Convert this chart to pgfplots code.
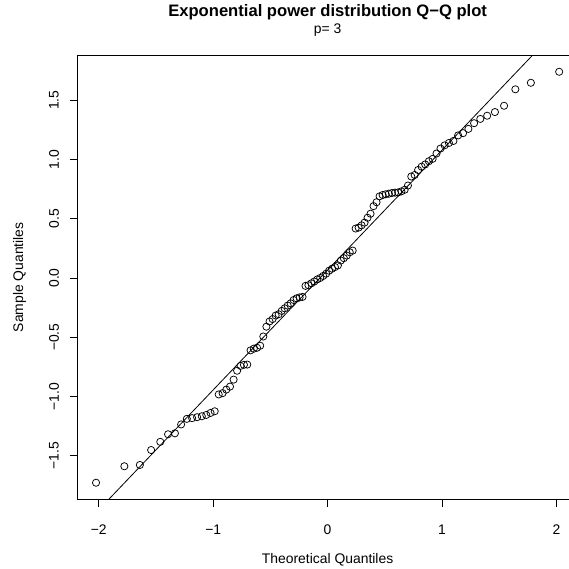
\documentclass[border=0pt]{standalone}
\usepackage{pgfplots}
\pgfplotsset{compat=1.18}
\usepackage{pgfplotstable}
\usepackage{fontspec}
\setmainfont{Liberation Sans}

% sorted sample (y) against theoretical quantiles (x), n = 100
\pgfplotstableread{
x y
-2.0240 -1.728
-1.7765 -1.589
-1.6410 -1.578
-1.5424 -1.452
-1.4626 -1.383
-1.3946 -1.319
-1.3346 -1.311
-1.2803 -1.236
-1.2305 -1.189
-1.1842 -1.183
-1.1407 -1.175
-1.0995 -1.167
-1.0603 -1.156
-1.0228 -1.139
-0.9867 -1.125
-0.9518 -0.983
-0.9179 -0.972
-0.8851 -0.942
-0.8530 -0.917
-0.8216 -0.858
-0.7910 -0.783
-0.7609 -0.742
-0.7313 -0.733
-0.7022 -0.731
-0.6735 -0.611
-0.6452 -0.597
-0.6172 -0.589
-0.5894 -0.572
-0.5620 -0.494
-0.5349 -0.411
-0.5077 -0.367
-0.4809 -0.347
-0.4543 -0.317
-0.4278 -0.306
-0.4014 -0.278
-0.3751 -0.256
-0.3490 -0.233
-0.3229 -0.214
-0.2969 -0.186
-0.2709 -0.172
-0.2450 -0.164
-0.2191 -0.160
-0.1933 -0.067
-0.1675 -0.061
-0.1417 -0.045
-0.1159 -0.030
-0.0902 -0.012
-0.0644 0.000
-0.0386 0.017
-0.0129 0.036
0.0129 0.061
0.0386 0.078
0.0644 0.092
0.0902 0.106
0.1159 0.147
0.1417 0.167
0.1675 0.189
0.1933 0.217
0.2191 0.231
0.2450 0.417
0.2709 0.425
0.2969 0.444
0.3229 0.467
0.3490 0.508
0.3751 0.542
0.4014 0.606
0.4278 0.639
0.4543 0.689
0.4809 0.700
0.5077 0.706
0.5349 0.711
0.5620 0.717
0.5894 0.720
0.6172 0.722
0.6452 0.731
0.6735 0.744
0.7022 0.780
0.7313 0.856
0.7609 0.869
0.7910 0.911
0.8216 0.939
0.8530 0.958
0.8851 0.985
0.9179 1.005
0.9518 1.050
0.9867 1.092
1.0228 1.119
1.0603 1.139
1.0995 1.156
1.1407 1.203
1.1842 1.222
1.2305 1.258
1.2803 1.306
1.3346 1.342
1.3946 1.369
1.4626 1.400
1.5424 1.453
1.6410 1.592
1.7765 1.647
2.0240 1.740
}\qqdata

\begin{document}
\begin{tikzpicture}
\useasboundingbox (0,0) rectangle (569pt,569pt);
\begin{axis}[
    at={(77.5pt,69.8pt)}, anchor=south west,
    scale only axis,
    width=500.2pt, height=443.9pt,
    xmin=-2.186, xmax=2.186,
    ymin=-1.867, ymax=1.879,
    axis line style={black, line width=0.8pt},
    tick style={black, line width=0.8pt},
    major tick length=7.5pt,
    tick align=outside,
    xtick={-2,-1,0,1,2},
    xticklabels={−2,−1,0,1,2},
    ytick={-1.5,-1,-0.5,0,0.5,1,1.5},
    yticklabels={−1.5,−1.0,−0.5,0.0,0.5,1.0,1.5},
    xtick pos=bottom, ytick pos=left,
    font=\fontsize{13.9}{16}\selectfont,
    xticklabel style={anchor=center, yshift=-23pt},
    yticklabel style={xshift=-16pt, rotate=90, anchor=center},
    every axis x label/.style={at={(axis description cs:0.5,0)}, yshift=-61pt, anchor=center},
    every axis y label/.style={at={(axis description cs:0,0.5)}, xshift=-58pt, rotate=90, anchor=center},
    xlabel={Theoretical Quantiles},
    ylabel={Sample Quantiles},
]
\addplot[only marks, mark=o, mark size=3.6pt, mark options={line width=0.75pt, black}] table[x=x, y=y] {\qqdata};
\addplot[black, line width=0.8pt] coordinates {(-2.3,-2.260) (2.3,2.394)};
\end{axis}
\node[font=\fontsize{16.6}{19}\selectfont\bfseries] at (327.6pt,557pt) {Exponential power distribution Q−Q plot};
\node[font=\fontsize{13.9}{16}\selectfont] at (327.6pt,539pt) {p= 3};
\end{tikzpicture}
\end{document}
